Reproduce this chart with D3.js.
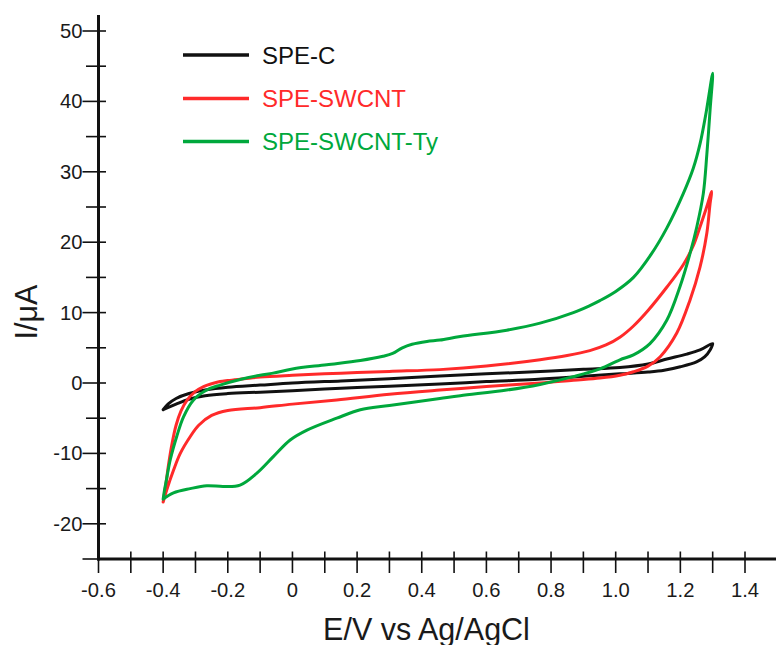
<!DOCTYPE html>
<html>
<head>
<meta charset="utf-8">
<script src="https://cdn.jsdelivr.net/npm/d3@7/dist/d3.min.js"></script>
<style>
  html, body { margin: 0; padding: 0; background: #fff; }
  svg { display: block; }
  text { font-family: "Liberation Sans", Arial, sans-serif; fill: #1a1a1a; }
</style>
</head>
<body>
<svg id="chart" width="776" height="645"></svg>
<script>
// Cyclic voltammograms: [E (V vs Ag/AgCl), I (µA)], forward sweep then reverse sweep.
const speC = [
  [-0.4,-3.8],[-0.385,-3.0],[-0.36,-2.2],[-0.32,-1.5],[-0.27,-1.0],[-0.2,-0.6],[-0.1,-0.3],
  [0,0],[0.15,0.3],[0.3,0.6],[0.456,1.0],[0.6,1.3],[0.75,1.6],[0.9,1.95],[1.013,2.2],
  [1.1,2.7],[1.158,3.4],[1.22,4.1],[1.261,4.7],[1.3,5.6],
  [1.292,4.7],[1.275,3.7],[1.25,3.0],[1.2,2.3],[1.15,1.8],[1.1,1.55],[1.013,1.3],
  [0.9,0.95],[0.75,0.5],[0.6,0.2],[0.456,-0.15],[0.3,-0.45],[0.15,-0.75],[0,-1.1],
  [-0.1,-1.3],[-0.2,-1.5],[-0.27,-1.8],[-0.32,-2.3],[-0.36,-3.0],[-0.4,-3.8]
];

const speSwcnt = [
  [-0.4,-16.9],[-0.392,-14.5],[-0.383,-11.5],[-0.372,-8.5],[-0.36,-6.0],[-0.345,-4.0],
  [-0.327,-2.5],[-0.3,-1.2],[-0.275,-0.5],[-0.25,-0.1],[-0.224,0.2],[-0.2,0.35],
  [-0.15,0.6],[-0.1,0.85],[0,1.1],[0.15,1.4],[0.3,1.65],[0.456,1.9],[0.6,2.4],
  [0.766,3.3],[0.85,3.9],[0.92,4.6],[0.97,5.4],[1.013,6.5],[1.055,8.1],[1.1,10.3],
  [1.158,13.6],[1.209,16.8],[1.24,19.5],[1.261,22.2],[1.28,24.8],[1.297,27.2],
  [1.292,25.5],[1.282,21.3],[1.261,16.5],[1.23,11.8],[1.189,7.1],[1.137,3.7],
  [1.1,2.4],[1.055,1.6],[1.013,1.1],[0.951,0.7],[0.869,0.4],[0.766,0],[0.6,-0.5],
  [0.456,-1.0],[0.3,-1.6],[0.137,-2.4],[0,-3.0],[-0.1,-3.5],[-0.2,-3.9],[-0.25,-4.6],
  [-0.29,-6.0],[-0.316,-7.6],[-0.347,-10.0],[-0.368,-12.4],[-0.389,-15.2],[-0.4,-16.9]
];

const speSwcntTy = [
  [-0.4,-16.5],[-0.395,-15.0],[-0.39,-13.8],[-0.378,-10.9],[-0.358,-7.6],[-0.337,-4.8],
  [-0.306,-2.4],[-0.265,-1.0],[-0.224,-0.3],[-0.162,0.5],[-0.1,1.1],[-0.06,1.4],
  [0,2.0],[0.106,2.6],[0.21,3.2],[0.28,3.8],[0.31,4.2],[0.34,5.0],[0.37,5.5],
  [0.416,5.9],[0.456,6.1],[0.519,6.6],[0.663,7.5],[0.766,8.5],[0.869,10.0],
  [0.92,11.0],[0.951,11.7],[1.0,13.0],[1.055,15.0],[1.11,18.3],[1.158,22.0],[1.209,26.9],
  [1.24,30.5],[1.261,34.0],[1.28,38.5],[1.3,44.0],
  [1.292,38.8],[1.282,32.5],[1.271,26.9],[1.251,22.2],[1.23,18.4],[1.199,13.7],
  [1.158,8.9],[1.106,5.6],[1.055,4.0],[1.013,3.3],[0.951,2.0],[0.869,0.9],[0.766,-0.2],
  [0.663,-1.0],[0.519,-1.8],[0.456,-2.2],[0.3,-3.2],[0.21,-3.8],[0.137,-5.0],
  [0.045,-6.7],[-0.007,-8.1],[-0.06,-10.5],[-0.11,-12.8],[-0.162,-14.5],[-0.213,-14.7],
  [-0.265,-14.6],[-0.316,-15.0],[-0.368,-15.6],[-0.4,-16.5]
];

const seriesNames  = ["SPE-C", "SPE-SWCNT", "SPE-SWCNT-Ty"];
const seriesColors = ["#111111", "#ff2a2a", "#00a83c"];
const seriesData   = [speC, speSwcnt, speSwcntTy];

// Axis ticks
const xMajorTicks = [-0.6,-0.4,-0.2,0,0.2,0.4,0.6,0.8,1.0,1.2,1.4];
const xMinorTicks = [-0.5,-0.3,-0.1,0.1,0.3,0.5,0.7,0.9,1.1,1.3];
const xTickLabels = ["-0.6","-0.4","-0.2","0","0.2","0.4","0.6","0.8","1.0","1.2","1.4"];
const yMajorTicks = [-20,-10,0,10,20,30,40,50];
const yMinorTicks = [-25,-15,-5,5,15,25,35,45];
const yTickLabels = ["-20","-10","0","10","20","30","40","50"];

const svg = d3.select("#chart");

const x = d3.scaleLinear().domain([-0.6, 1.4]).range([98.5, 745]);
const y = d3.scaleLinear().domain([-25, 50]).range([559, 31]);

const xAxisY = y(-25);
const yAxisX = x(-0.6);

// Axis lines
svg.append("line")
  .attr("x1", yAxisX - 1.5).attr("x2", 776)
  .attr("y1", xAxisY).attr("y2", xAxisY)
  .attr("stroke", "#111").attr("stroke-width", 3);
svg.append("line")
  .attr("x1", yAxisX).attr("x2", yAxisX)
  .attr("y1", 15).attr("y2", xAxisY + 1.5)
  .attr("stroke", "#111").attr("stroke-width", 3);

// X ticks (cross the axis)
svg.append("g").selectAll("line")
  .data(xMajorTicks.concat(xMinorTicks))
  .join("line")
  .attr("x1", d => x(d)).attr("x2", d => x(d))
  .attr("y1", xAxisY - 7.5).attr("y2", xAxisY + 14)
  .attr("stroke", "#111").attr("stroke-width", 1.6);

svg.append("g").selectAll("text")
  .data(xMajorTicks)
  .join("text")
  .attr("x", d => x(d))
  .attr("y", 596.5)
  .attr("text-anchor", "middle")
  .attr("font-size", 20.2)
  .text((d, i) => xTickLabels[i]);

// Y ticks
svg.append("g").selectAll("line")
  .data(yMajorTicks)
  .join("line")
  .attr("x1", yAxisX - 16).attr("x2", yAxisX + 7.5)
  .attr("y1", d => y(d)).attr("y2", d => y(d))
  .attr("stroke", "#111").attr("stroke-width", 1.6);
svg.append("g").selectAll("line")
  .data(yMinorTicks)
  .join("line")
  .attr("x1", d => d === -25 ? yAxisX - 16 : yAxisX - 12.5).attr("x2", yAxisX + 7.5)
  .attr("y1", d => y(d)).attr("y2", d => y(d))
  .attr("stroke", "#111").attr("stroke-width", 1.6);

svg.append("g").selectAll("text")
  .data(yMajorTicks)
  .join("text")
  .attr("x", yAxisX - 16)
  .attr("y", d => y(d) + 7)
  .attr("text-anchor", "end")
  .attr("font-size", 20.2)
  .text((d, i) => yTickLabels[i]);

// Axis titles
svg.append("text")
  .attr("x", 426.5).attr("y", 640)
  .attr("text-anchor", "middle")
  .attr("font-size", 30.5)
  .text("E/V vs Ag/AgCl");

svg.append("text")
  .attr("transform", "translate(37,312) rotate(-90)")
  .attr("text-anchor", "middle")
  .attr("font-size", 30.5)
  .text("I/\u03bcA");

// Voltammogram curves
const line = d3.line()
  .x(d => x(d[0]))
  .y(d => y(d[1]))
  .curve(d3.curveCatmullRom.alpha(0.5));

svg.append("g").selectAll("path")
  .data(seriesData)
  .join("path")
  .attr("d", d => line(d))
  .attr("fill", "none")
  .attr("stroke", (d, i) => seriesColors[i])
  .attr("stroke-width", 3)
  .attr("stroke-linejoin", "round")
  .attr("stroke-linecap", "round");

// Legend
const legendRows = [55, 98.5, 141.5];
const legend = svg.append("g").selectAll("g")
  .data(seriesNames)
  .join("g");
legend.append("line")
  .attr("x1", 183).attr("x2", 249)
  .attr("y1", (d, i) => legendRows[i]).attr("y2", (d, i) => legendRows[i])
  .attr("stroke", (d, i) => seriesColors[i])
  .attr("stroke-width", 3.5);
legend.append("text")
  .attr("x", 262)
  .attr("y", (d, i) => legendRows[i] + 8.5)
  .attr("font-size", 24)
  .style("fill", (d, i) => seriesColors[i])
  .text(d => d);
</script>
</body>
</html>
